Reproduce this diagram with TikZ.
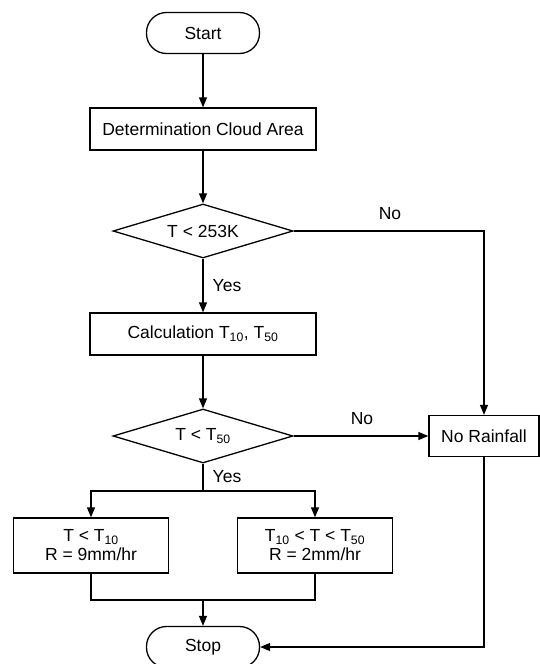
\documentclass[tikz,border=0pt]{standalone}
\usepackage{fontspec}
\setmainfont{Liberation Sans}
\usetikzlibrary{arrows.meta,shapes.geometric}
\begin{document}
\begin{tikzpicture}[x=1pt,y=-1pt, line width=1.3pt,
  every node/.style={font=\fontsize{17.5}{19}\selectfont},
  term/.style={draw, rounded corners=20pt, minimum width=113pt, minimum height=41pt, inner sep=0},
  procbox/.style={draw, minimum height=42pt, inner sep=0, align=center},
  decide/.style={draw, diamond, aspect=3.33, minimum width=180pt, minimum height=54pt, inner sep=0},
  arr/.style={-{Triangle[length=10pt,width=8pt]}},
  lbl/.style={inner sep=0}]
\useasboundingbox (0,0) rectangle (539,664);
\fill[white] (0,0) rectangle (539,664);
\node[term] (start) at (203,33) {Start};
\node[procbox, minimum width=226pt] (det) at (203,129) {Determination Cloud Area};
\node[decide] (d1) at (203,231) {T < 253K};
\node[procbox, minimum width=226pt] (calc) at (203,334) {Calculation T\textsubscript{10}, T\textsubscript{50}};
\node[decide] (d2) at (203,436) {T < T\textsubscript{50}};
\node[procbox, minimum width=110pt, minimum height=41pt] (nr) at (484,436) {No Rainfall};
\node[procbox, minimum width=155pt, minimum height=55pt] (b1) at (91,545.5) {T < T\textsubscript{10}\\R = 9mm/hr};
\node[procbox, minimum width=155pt, minimum height=55pt] (b2) at (315,545.5) {T\textsubscript{10} < T < T\textsubscript{50}\\R = 2mm/hr};
\node[term] (stop) at (203,647) {Stop};
\coordinate (split) at (203,491);
\coordinate (merge) at (203,600);
\draw[arr] (start) -- (det);
\draw[arr] (det) -- (d1);
\draw[arr] (d1) -- (calc);
\draw[arr] (calc) -- (d2);
\draw[arr] (d1.east) -| (nr.north);
\draw[arr] (d2.east) -- (nr.west);
\draw (d2.south) -- (split);
\draw[arr] (split) -| (b1.north);
\draw[arr] (split) -| (b2.north);
\draw (b1.south) |- (merge);
\draw (b2.south) |- (merge);
\draw[arr] (merge) -- (stop);
\draw[arr] (nr.south) |- (stop.east);
\node[lbl] (no1) at (390,214) {No};
\node[lbl] (yes1) at (227,286) {Yes};
\node[lbl] (no2) at (362,419) {No};
\node[lbl] (yes2) at (227,477) {Yes};
\end{tikzpicture}
\end{document}
